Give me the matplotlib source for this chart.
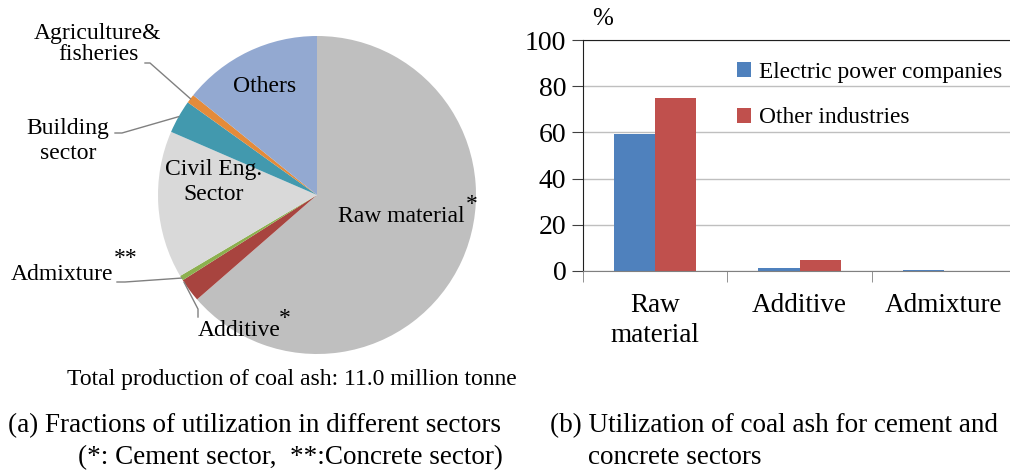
import numpy as np
import matplotlib as mpl
import matplotlib.pyplot as plt

mpl.rcParams.update({
    "font.family": ["Liberation Serif", "DejaVu Serif"],
    "savefig.dpi": 100,
})

# (a) pie: fractions of utilization (%)
sectors = ["Raw material", "Additive", "Admixture", "Civil Eng.\nSector",
           "Building\nsector", "Agriculture&\nfisheries", "Others"]
fractions = [63.6, 2.4, 0.5, 15.0, 3.4, 0.9, 14.2]
pie_colors = ["#BFBFBF", "#A8443F", "#8CB04E", "#D9D9D9",
              "#4299AE", "#E48B3A", "#93A9D1"]

# (b) bars: utilization for cement and concrete sectors (%)
uses = ["Raw\nmaterial", "Additive", "Admixture"]
electric = [59.5, 1.3, 0.4]
other_ind = [75.0, 4.6, 0.0]

W, H = 1010, 472
fig = plt.figure(figsize=(W / 100, H / 100), dpi=100)


def px(x, y):
    return x / W, 1 - y / H


# ---- pie ----
cx, cy, r = 317, 195, 159
ax1 = fig.add_axes([(cx - r) / W, 1 - (cy + r) / H, 2 * r / W, 2 * r / H])
wedges, _ = ax1.pie(fractions, colors=pie_colors, startangle=90,
                    counterclock=False, radius=1,
                    wedgeprops=dict(linewidth=0))
ax1.set_xlim(-1, 1)
ax1.set_ylim(-1, 1)
ax1.set_aspect("auto")
ax1.axis("off")


def to_data(x, y):
    return (x - cx) / r, (cy - y) / r


def edge_point(i, frac=0.5):
    w = wedges[i]
    a = np.deg2rad(w.theta1 + (w.theta2 - w.theta1) * frac)
    return np.cos(a), np.sin(a)


fs = 17
ax1.text(*to_data(265, 86), "Others", ha="center", va="center", fontsize=fs)
ax1.text(*to_data(401, 217), "Raw material", ha="center", va="center", fontsize=fs)
ax1.text(*to_data(472, 204), "*", ha="center", va="center", fontsize=fs)
ax1.text(*to_data(214, 182), "Civil Eng.\nSector", ha="center", va="center",
         fontsize=fs, linespacing=1.2)
ax1.text(*to_data(68, 141), "Building\nsector", ha="center", va="center",
         fontsize=fs, linespacing=1.2, clip_on=False)
ax1.text(*to_data(98, 44), "Agriculture&\nfisheries", ha="center", va="center",
         fontsize=fs, linespacing=1.05, clip_on=False)
ax1.text(*to_data(62, 274), "Admixture", ha="center", va="center", fontsize=fs)
ax1.text(*to_data(126, 259), "**", ha="center", va="center", fontsize=fs)
ax1.text(*to_data(239, 331), "Additive", ha="center", va="center", fontsize=fs)
ax1.text(*to_data(285, 318), "*", ha="center", va="center", fontsize=fs)

lc = "#808080"
# leader lines: from label to wedge edge
for (lx, ly), (mx, my), i in [((145, 63), (150, 63), 5),
                              ((115, 133), (122, 133), 4),
                              ((117, 282), (125, 282), 2)]:
    ex, ey = edge_point(i)
    p0 = to_data(lx, ly)
    p1 = to_data(mx, my)
    ax1.plot([p0[0], p1[0], ex], [p0[1], p1[1], ey], color=lc, lw=1,
             clip_on=False)
ex, ey = edge_point(1, 0.1)
p0 = to_data(198, 317)
ax1.plot([p0[0], p0[0], ex], [p0[1], p0[1] + 0.05, ey], color=lc, lw=1,
         clip_on=False)

# ---- bars ----
x0, x1, ytop, ybot = 583, 1016, 40, 271
ax2 = fig.add_axes([x0 / W, 1 - ybot / H, (x1 - x0) / W, (ybot - ytop) / H])
x = np.arange(len(uses))
bw = 0.285
ax2.bar(x - bw / 2, electric, bw, color="#4F81BD", label="Electric power companies")
ax2.bar(x + bw / 2, other_ind, bw, color="#C0504D", label="Other industries")
ax2.set_xlim(-0.5, 2.5)
ax2.set_ylim(0, 100)
ax2.set_yticks(np.arange(0, 101, 20))
ax2.yaxis.grid(True, color="#BFBFBF", lw=1)
ax2.set_axisbelow(True)
ax2.set_xticks(x, uses, fontsize=19.5, linespacing=1.25)
ax2.set_xticks([-0.5, 0.5, 1.5, 2.5], minor=True)
ax2.tick_params(axis="x", which="major", length=0, pad=16)
ax2.tick_params(axis="x", which="minor", length=8, color="#808080", direction="out")
ax2.tick_params(axis="y", labelsize=20, length=8, color="#404040", pad=4)
ax2.spines["right"].set_visible(False)
ax2.spines["top"].set_color("#202020")
ax2.spines["left"].set_color("#202020")
ax2.spines["bottom"].set_color("#808080")
fig.text(*px(592, 19), "%", ha="left", va="center", fontsize=18)
ax2.legend(loc="upper left", bbox_to_anchor=((737 - x0) / (x1 - x0), 0.905),
           frameon=False, fontsize=16.8, handlelength=0.6, handleheight=0.6,
           handletextpad=0.35, labelspacing=1.05, borderaxespad=0,
           borderpad=0)

# ---- captions ----
fig.text(*px(292, 379), "Total production of coal ash: 11.0 million tonne",
         ha="center", va="center", fontsize=17)
fig.text(*px(8, 426), "(a) Fractions of utilization in different sectors",
         ha="left", va="center", fontsize=19.5)
fig.text(*px(78, 458), "(*: Cement sector,  **:Concrete sector)",
         ha="left", va="center", fontsize=19.5)
fig.text(*px(550, 426), "(b) Utilization of coal ash for cement and",
         ha="left", va="center", fontsize=19.5)
fig.text(*px(588, 458), "concrete sectors",
         ha="left", va="center", fontsize=19.5)

fig.savefig("out.png", dpi=100)
